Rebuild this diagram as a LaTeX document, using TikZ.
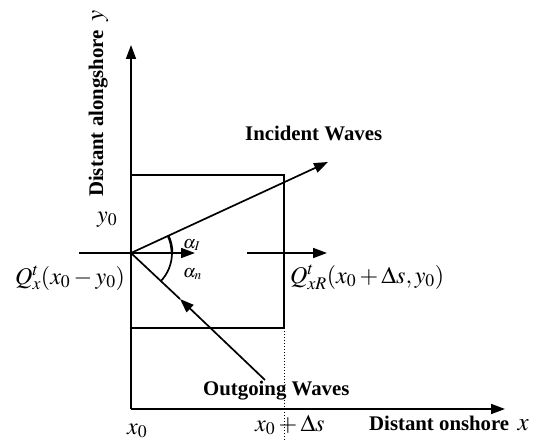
\documentclass[tikz,border=0pt]{standalone}
\usepackage{mathptmx}
\usepackage[no-math]{fontspec}
\setmainfont{Liberation Serif}
\usetikzlibrary{arrows.meta,calc}
\begin{document}
\begin{tikzpicture}[x=1pt,y=-1pt,
  ln/.style={line width=1.7pt},
  arr/.style={ln,-{Triangle[length=14pt,width=10pt]}},
  lbl/.style={inner sep=0pt,font=\fontsize{20.8}{24}\selectfont\bfseries},
  mth/.style={inner sep=0pt,font=\fontsize{24}{28}\selectfont},
  sml/.style={inner sep=0pt,font=\fontsize{18}{21}\selectfont}]
\useasboundingbox (0,0) rectangle (538,441);
% key coordinates
\coordinate (O) at (131,253);
\coordinate (C) at (131,409);
\coordinate (YT) at (131,45);
\coordinate (XT) at (505,409);
\coordinate (B1) at (131,175);
\coordinate (B2) at (284,328);
\coordinate (IN) at (328,162);
\coordinate (OUTs) at (265,380);
\coordinate (OUTm) at (180,299);
\coordinate (Lin) at (79,253);
\coordinate (Lout) at (195,253);
\coordinate (Rs) at (247,253);
\coordinate (Re) at (327,253);
\coordinate (Dt) at (284,328);
\coordinate (Db) at (284,441);
% axes
\draw[arr] (C) -- (YT);
\draw[arr] (C) -- (XT);
% box
\draw[ln] (B1) rectangle (B2);
% flows
\draw[arr] (Lin) -- (Lout);
\draw[arr] (Rs) -- (Re);
\draw[arr] (O) -- (IN);
\draw[arr] (OUTs) -- (OUTm);
\draw[ln] (OUTm) -- (O);
% dotted
\draw[line width=1pt,dotted] (Dt) -- (Db);
% angle arcs
\draw[line width=2.6pt] ($(O)+(-24.8:41)$) arc[start angle=-24.8,end angle=0,radius=41];
\draw[ln] ($(O)+(0:41)$) arc[start angle=0,end angle=43.5,radius=41];
% labels
\node[lbl,anchor=base west] (inc) at (245,141) {Incident Waves};
\node[lbl,anchor=base west] (out) at (203,395) {Outgoing Waves};
\node[lbl,anchor=base west] (xl) at (369,430) {Distant onshore\hspace{0.4em}{\mdseries\fontsize{25}{28}\selectfont$x$}};
\node[lbl,anchor=base west,rotate=90] (yl) at (103,197) {Distant alongshore\hspace{0.4em}{\mdseries\fontsize{25}{28}\selectfont$y$}};
\node[mth,anchor=base west] (y0) at (97,222) {$y_0$};
\node[mth,anchor=base west] (ql) at (15,284) {$Q_x^t(x_0-y_0)$};
\node[mth,anchor=base west] (qr) at (290,283) {$Q_{xR}^t(x_0+\Delta s,y_0)$};
\node[sml,anchor=base west] (aI) at (183,248) {$\alpha_I$};
\node[sml,anchor=base west] (an) at (183,277) {$\alpha_n$};
\node[mth,anchor=base west] (x0) at (127,434) {$x_0$};
\node[mth,anchor=base west] (x0s) at (255,431) {$x_0+\Delta s$};
\end{tikzpicture}
\end{document}
